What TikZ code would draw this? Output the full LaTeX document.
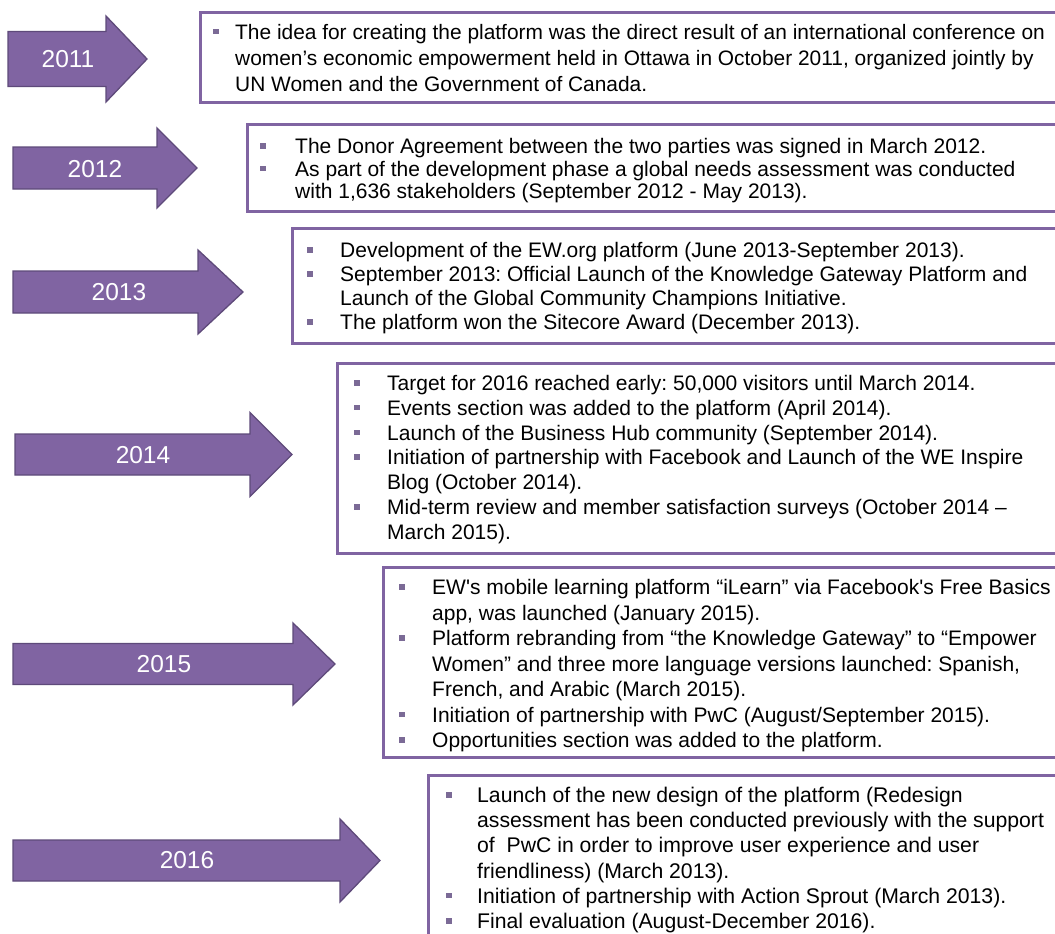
\documentclass[tikz,border=0pt]{standalone}
\usepackage{fontspec}
\setmainfont{Liberation Sans}
\frenchspacing
\definecolor{arrowfill}{HTML}{8064A2}
\definecolor{arrowdraw}{HTML}{5E4A7A}
\definecolor{boxline}{HTML}{8064A2}
\definecolor{bulletc}{HTML}{7B6A96}
\newcommand{\bul}{\textcolor{bulletc}{\rule[5pt]{5.5pt}{5.5pt}}}
% #1 x0, #2 yc, #3 body half, #4 head base x, #5 head half, #6 tip x
\newcommand{\yarrow}[6]{%
  \draw[yeararrow] (#1,#2-#3) -- (#4,#2-#3) -- (#4,#2-#5) -- (#6,#2)
    -- (#4,#2+#5) -- (#4,#2+#3) -- (#1,#2+#3) -- cycle;}
\tikzset{
  yeararrow/.style={fill=arrowfill, draw=arrowdraw, line width=1.3pt, line join=miter},
  yearlbl/.style={text=white, inner sep=0pt, font=\fontsize{24.5}{28}\selectfont},
  infobox/.style={draw=boxline, line width=3pt, fill=white},
  boxtxt/.style={anchor=base west, inner sep=0pt, align=left},
}
\begin{document}
\begin{tikzpicture}[x=1pt, y=-1pt]
\useasboundingbox (0,0) rectangle (1055,934);
\clip (0,0) rectangle (1055,934);
\fill[white] (0,0) rectangle (1055,934);

% arrows
\yarrow{8}{59}{27.5}{106}{43}{147}
\yarrow{13}{168}{21}{157}{40}{197}
\yarrow{13}{292}{21}{198}{42}{243}
\yarrow{15}{454.5}{20.5}{250}{42}{292}
\yarrow{13}{664}{20.5}{293}{41}{335}
\yarrow{13}{860.5}{20.5}{340}{41.5}{380}

\node[yearlbl] (y2011) at (68,59) {2011};
\node[yearlbl] (y2012) at (95,169) {2012};
\node[yearlbl] (y2013) at (119,292) {2013};
\node[yearlbl] (y2014) at (143,455) {2014};
\node[yearlbl] (y2015) at (164,664) {2015};
\node[yearlbl] (y2016) at (187,860) {2016};

% boxes
\draw[infobox] (200,13) rectangle (1075,102);
\draw[infobox] (247,124) rectangle (1075,211);
\draw[infobox] (292,228) rectangle (1075,343);
\draw[infobox] (337,363) rectangle (1075,553);
\draw[infobox] (383,567) rectangle (1075,757);
\draw[infobox] (428,775) rectangle (1075,950);

\node[boxtxt] (t2011) at (213,39.5) {\fontsize{20.9}{25.8}\selectfont
\begin{tabular}[t]{@{}p{22pt}@{}l@{}}
\bul & The idea for creating the platform was the direct result of an international conference on\\
 & women’s economic empowerment held in Ottawa in October 2011, organized jointly by\\
 & UN Women and the Government of Canada.
\end{tabular}};

\node[boxtxt] (t2012) at (260,153.5) {\fontsize{21}{22.7}\selectfont
\begin{tabular}[t]{@{}p{35pt}@{}l@{}}
\bul & The Donor Agreement between the two parties was signed in March 2012.\\
\bul & As part of the development phase a global needs assessment was conducted\\
 & with 1,636 stakeholders (September 2012 - May 2013).
\end{tabular}};

\node[boxtxt] (t2013) at (307,257.5) {\fontsize{21}{24}\selectfont
\begin{tabular}[t]{@{}p{33pt}@{}l@{}}
\bul & Development of the EW.org platform (June 2013-September 2013).\\
\bul & September 2013: Official Launch of the Knowledge Gateway Platform and\\
 & Launch of the Global Community Champions Initiative.\\
\bul & The platform won the Sitecore Award (December 2013).
\end{tabular}};

\node[boxtxt] (t2014) at (354,390.5) {\fontsize{21}{24.8}\selectfont
\begin{tabular}[t]{@{}p{33pt}@{}l@{}}
\bul & Target for 2016 reached early: 50,000 visitors until March 2014.\\
\bul & Events section was added to the platform (April 2014).\\
\bul & Launch of the Business Hub community (September 2014).\\
\bul & Initiation of partnership with Facebook and Launch of the WE Inspire\\
 & Blog (October 2014).\\
\bul & Mid-term review and member satisfaction surveys (October 2014 –\\
 & March 2015).
\end{tabular}};

\node[boxtxt] (t2015) at (399,594.5) {\fontsize{21}{25.5}\selectfont
\begin{tabular}[t]{@{}p{33pt}@{}l@{}}
\bul & EW\textquotesingle s mobile learning platform “iLearn” via Facebook\textquotesingle s Free Basics\\
 & app, was launched (January 2015).\\
\bul & Platform rebranding from “the Knowledge Gateway” to “Empower\\
 & Women” and three more language versions launched: Spanish,\\
 & French, and Arabic (March 2015).\\
\bul & Initiation of partnership with PwC (August/September 2015).\\
\bul & Opportunities section was added to the platform.
\end{tabular}};

\node[boxtxt] (t2016) at (446,802.5) {\fontsize{21.2}{25.2}\selectfont
\begin{tabular}[t]{@{}p{31pt}@{}l@{}}
\bul & Launch of the new design of the platform (Redesign\\
 & assessment has been conducted previously with the support\\
 & of\ \ PwC in order to improve user experience and user\\
 & friendliness) (March 2013).\\
\bul & Initiation of partnership with Action Sprout (March 2013).\\
\bul & Final evaluation (August-December 2016).
\end{tabular}};
\end{tikzpicture}
\end{document}
